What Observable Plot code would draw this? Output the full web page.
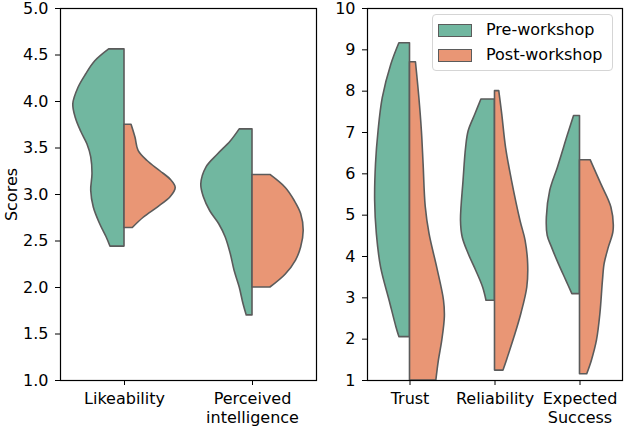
<!DOCTYPE html>
<html><head>
<meta charset="utf-8">
<script src="https://cdn.jsdelivr.net/npm/d3@7"></script>
<script src="https://cdn.jsdelivr.net/npm/@observablehq/plot@0.6"></script>
<style>
body{margin:0;background:#fff;font-family:"DejaVu Sans",sans-serif;}
#wrap{position:relative;width:624px;height:426px;display:flex;}
#wrap svg{overflow:visible;}
#legend{position:absolute;left:432px;top:14px;width:181px;height:57px;border:1px solid #d5d5d5;border-radius:4px;background:rgba(255,255,255,0.85);box-sizing:border-box;font-size:16px;color:#000;}
.item{position:absolute;left:5px;display:flex;align-items:center;line-height:18px;}
.sw{width:34px;height:13px;border:1.5px solid #5b5b5b;box-sizing:border-box;margin-right:14px;}
</style></head><body><div id="wrap"><div id="legend"></div></div>
<script>
const leftCategories = ["Likeability", "Perceived\nintelligence"];
const rightCategories = ["Trust", "Reliability", "Expected\nSuccess"];
const groups = ["Pre-workshop", "Post-workshop"];
const groupColors = ["#71b7a0", "#e99675"];
const leftTicks = [1.0, 1.5, 2.0, 2.5, 3.0, 3.5, 4.0, 4.5, 5.0];
const rightTicks = [1, 2, 3, 4, 5, 6, 7, 8, 9, 10];

// density profiles: [score, half-width in category units]
const likeabilityPre = [[4.56,0.12],[4.43,0.23],[4.29,0.30],[4.145,0.36],[3.97,0.40],[3.82,0.38],[3.68,0.34],[3.54,0.29],[3.40,0.26],[3.22,0.25],[3.04,0.26],[2.86,0.24],[2.68,0.19],[2.54,0.14],[2.44,0.11]];
const likeabilityPost = [[3.75,0.055],[3.61,0.086],[3.47,0.11],[3.36,0.18],[3.25,0.28],[3.16,0.36],[3.07,0.40],[2.97,0.36],[2.86,0.26],[2.75,0.15],[2.64,0.065]];
const intelligencePre = [[3.70,0.10],[3.57,0.17],[3.43,0.27],[3.29,0.36],[3.11,0.40],[2.97,0.38],[2.82,0.33],[2.68,0.26],[2.54,0.21],[2.36,0.17],[2.18,0.14],[2.00,0.10],[1.82,0.07],[1.70,0.045]];
const intelligencePost = [[3.21,0.14],[3.07,0.26],[2.93,0.33],[2.79,0.38],[2.61,0.40],[2.43,0.38],[2.29,0.34],[2.14,0.26],[2.00,0.14]];
const trustPre = [[9.16,0.125],[8.64,0.22],[7.84,0.32],[7.03,0.37],[6.23,0.40],[5.34,0.41],[4.54,0.39],[3.73,0.34],[2.93,0.24],[2.29,0.16],[2.05,0.125]];
const trustPost = [[8.70,0.07],[7.84,0.11],[7.03,0.14],[6.23,0.16],[5.2,0.185],[4.54,0.23],[3.73,0.32],[2.93,0.40],[2.53,0.41],[1.97,0.38],[1.48,0.34],[1.00,0.31]];
const reliabilityPre = [[7.80,0.16],[7.44,0.23],[7.03,0.31],[6.63,0.34],[5.83,0.37],[4.86,0.40],[4.46,0.38],[4.06,0.31],[3.65,0.22],[3.25,0.14],[2.93,0.10]];
const reliabilityPost = [[8.00,0.05],[7.44,0.085],[6.63,0.13],[5.83,0.20],[4.86,0.30],[4.38,0.36],[3.82,0.39],[3.25,0.38],[2.61,0.31],[2.05,0.23],[1.48,0.14],[1.24,0.10]];
const successPre = [[7.40,0.07],[6.95,0.14],[6.15,0.26],[5.59,0.35],[4.94,0.39],[4.5,0.38],[4.22,0.33],[3.82,0.25],[3.41,0.16],[3.09,0.09]];
const successPost = [[6.33,0.125],[5.75,0.25],[5.18,0.37],[4.62,0.395],[4.22,0.34],[3.82,0.29],[3.41,0.27],[2.61,0.24],[1.97,0.20],[1.48,0.14],[1.15,0.085]];

function rows(profiles) {
  const out = [];
  profiles.forEach(([pre, post], i) => {
    pre.forEach(([y, w]) => out.push({key: i + "pre", group: groups[0], c: i, x: i - w, y}));
    post.forEach(([y, w]) => out.push({key: i + "post", group: groups[1], c: i, x: i + w, y}));
  });
  return out;
}

function panel(cats, profiles, yDomain, yTicks, fmt, opts) {
  return Plot.plot({
    width: opts.width, height: 426,
    marginLeft: opts.marginLeft, marginRight: opts.marginRight, marginTop: 8, marginBottom: 46,
    style: {fontFamily: "DejaVu Sans, sans-serif", fontSize: "16px", color: "#000", background: "#fff", overflow: "visible"},
    x: {domain: [-0.5, cats.length - 0.5]},
    y: {domain: yDomain},
    color: {domain: groups, range: groupColors},
    marks: [
      Plot.areaX(rows(profiles), {y: "y", x1: "c", x2: "x", z: "key", fill: "group", fillOpacity: 1,
        stroke: "#5b5b5b", strokeWidth: 1.6, strokeLinejoin: "round", curve: "catmull-rom", clip: true}),
      Plot.frame({stroke: "#000", strokeWidth: 1.2}),
      Plot.axisY({ticks: yTicks, tickFormat: fmt, tickSize: 5, tickPadding: 7, fontSize: 16,
        label: opts.label, labelAnchor: "center", labelArrow: "none", labelOffset: 55}),
      Plot.axisX({ticks: d3.range(cats.length), tickFormat: i => cats[i], tickSize: 5, tickPadding: 5,
        fontSize: 16, lineHeight: 1.17, label: null})
    ]
  });
}

const wrap = document.getElementById("wrap");
wrap.prepend(panel(leftCategories, [[likeabilityPre, likeabilityPost], [intelligencePre, intelligencePost]],
  [1, 5], leftTicks, d3.format(".1f"), {width: 320, marginLeft: 60, marginRight: 4, label: "Scores"}));
wrap.insertBefore(panel(rightCategories, [[trustPre, trustPost], [reliabilityPre, reliabilityPost], [successPre, successPost]],
  [1, 10], rightTicks, d3.format("d"), {width: 304, marginLeft: 47, marginRight: 2, label: null}), document.getElementById("legend"));

const legend = document.getElementById("legend");
groups.forEach((g, i) => {
  const it = document.createElement("div");
  it.className = "item";
  it.style.top = (6 + i * 25) + "px";
  it.innerHTML = `<div class="sw" style="background:${groupColors[i]}"></div><span>${g}</span>`;
  legend.appendChild(it);
});
</script>
</body></html>
